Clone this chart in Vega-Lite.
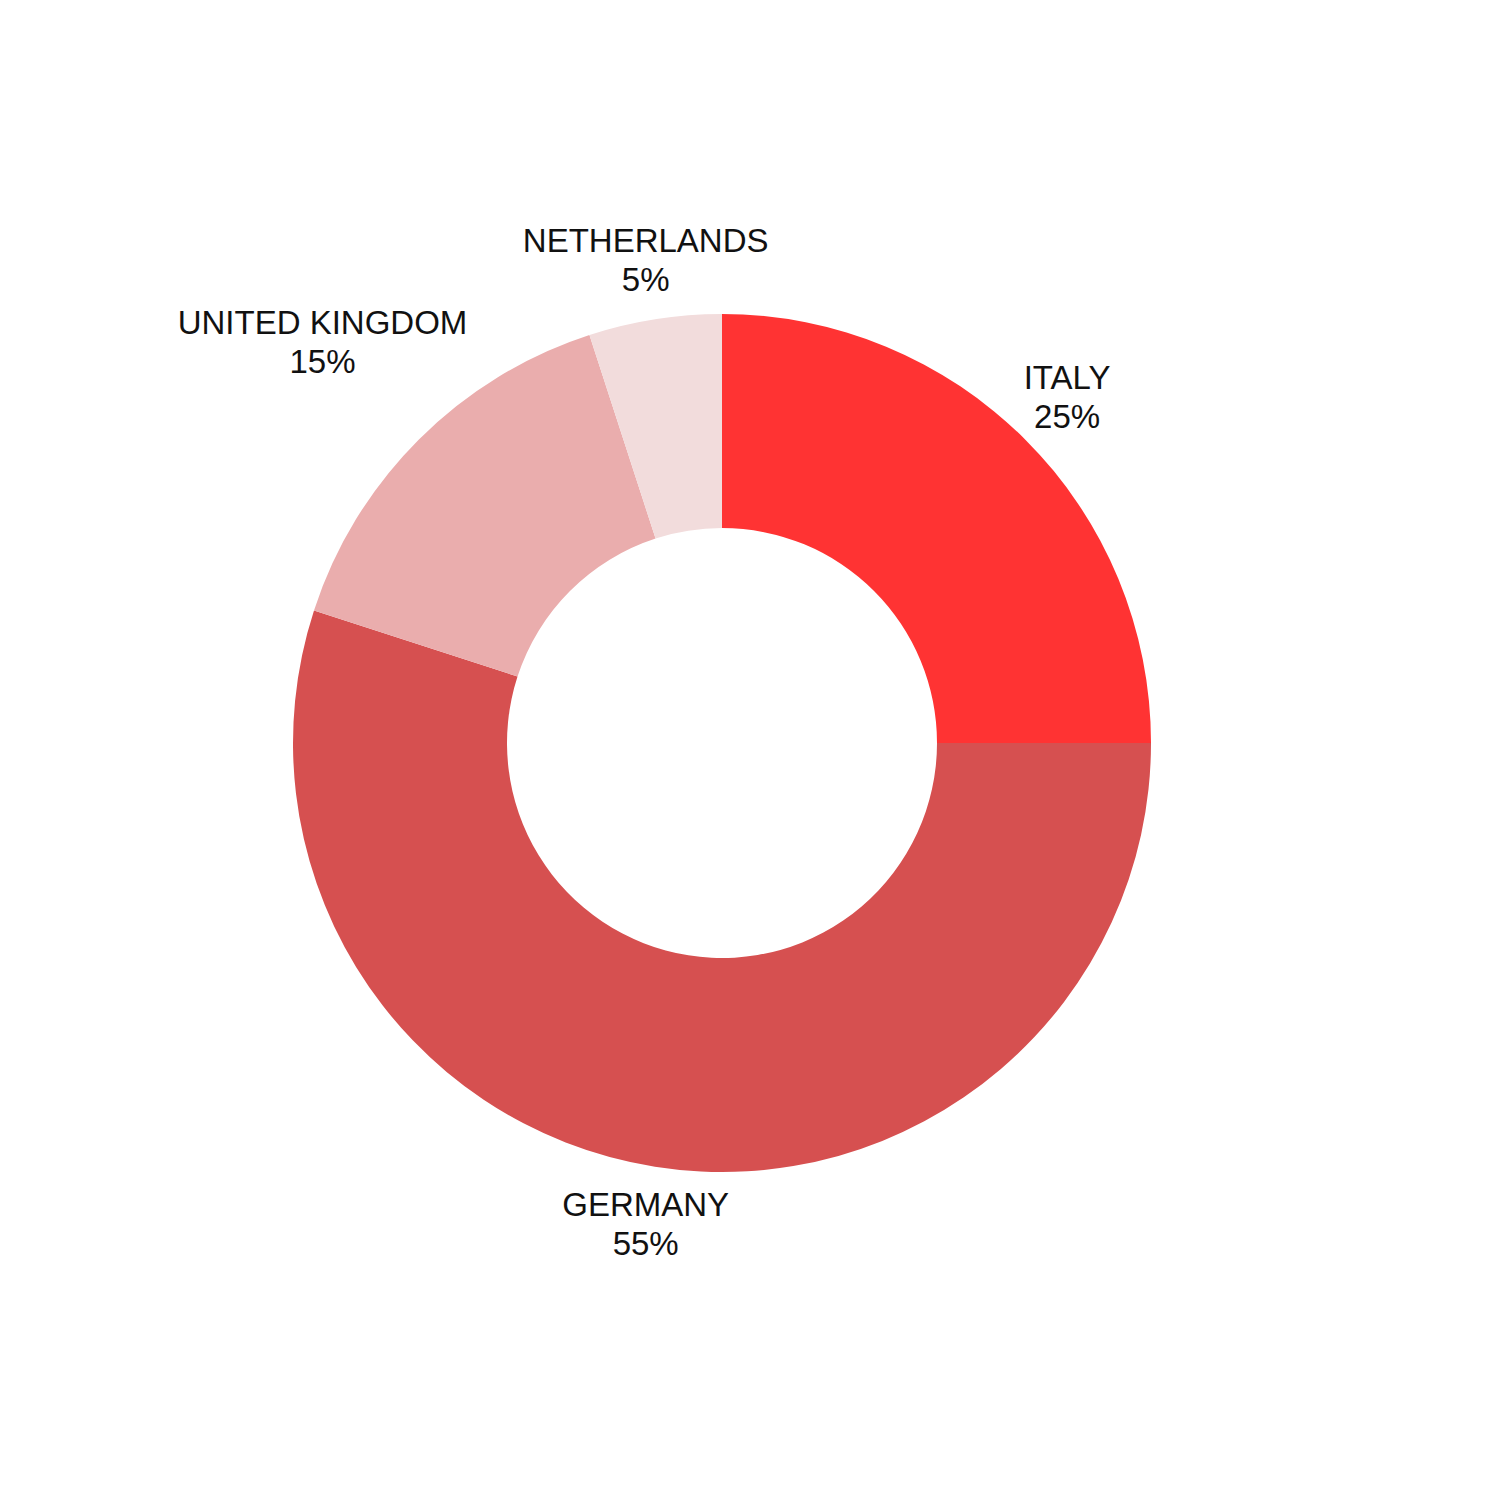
{
  "$schema": "https://vega.github.io/schema/vega-lite/v6.json",
  "width": 1444,
  "height": 1486,
  "padding": 0,
  "autosize": {"type": "none"},
  "background": "white",
  "config": {"view": {"stroke": null}},
  "data": {"values": [
    {"name": "ITALY", "value": 0.25, "idx": 1},
    {"name": "GERMANY", "value": 0.55, "idx": 2},
    {"name": "UNITED KINGDOM", "value": 0.15, "idx": 3},
    {"name": "NETHERLANDS", "value": 0.05, "idx": 4}
  ]},
  "encoding": {
    "theta": {"field": "value", "type": "quantitative", "stack": true},
    "order": {"field": "idx", "type": "quantitative"}
  },
  "layer": [
    {
      "mark": {"type": "arc", "outerRadius": 429, "innerRadius": 215},
      "encoding": {
        "color": {
          "field": "name", "type": "nominal", "legend": null,
          "scale": {"domain": ["ITALY", "GERMANY", "UNITED KINGDOM", "NETHERLANDS"],
                    "range": ["#FF3333", "#D65050", "#EAADAD", "#F2DCDC"]}
        }
      }
    },
    {
      "mark": {"type": "text", "radius": 488, "dy": -19, "fontSize": 33, "font": "Liberation Sans", "color": "#111111", "baseline": "middle", "align": "center"},
      "encoding": {"text": {"condition": {"test": "datum.name !== 'UNITED KINGDOM'", "field": "name"}, "value": ""}}
    },
    {
      "mark": {"type": "text", "radius": 488, "dy": 20, "fontSize": 33, "font": "Liberation Sans", "color": "#111111", "baseline": "middle", "align": "center"},
      "encoding": {"text": {"condition": {"test": "datum.name !== 'UNITED KINGDOM'", "field": "value", "format": ".0%"}, "value": ""}}
    },
    {
      "mark": {"type": "text", "radius": 565, "dy": -19, "fontSize": 33, "font": "Liberation Sans", "color": "#111111", "baseline": "middle", "align": "center"},
      "encoding": {"text": {"condition": {"test": "datum.name === 'UNITED KINGDOM'", "field": "name"}, "value": ""}}
    },
    {
      "mark": {"type": "text", "radius": 565, "dy": 20, "fontSize": 33, "font": "Liberation Sans", "color": "#111111", "baseline": "middle", "align": "center"},
      "encoding": {"text": {"condition": {"test": "datum.name === 'UNITED KINGDOM'", "field": "value", "format": ".0%"}, "value": ""}}
    }
  ]
}
